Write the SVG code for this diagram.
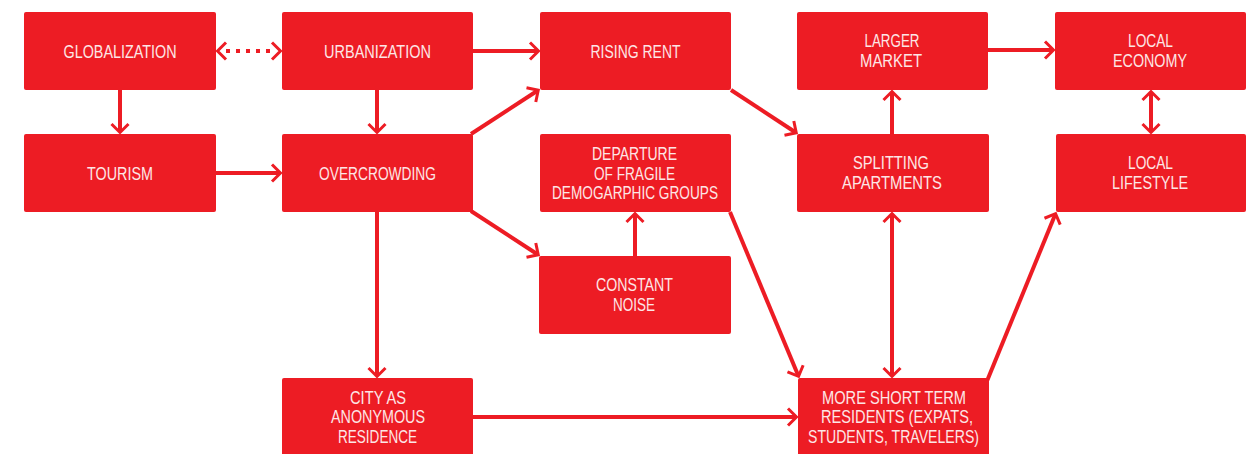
<svg xmlns="http://www.w3.org/2000/svg" width="1246" height="454" viewBox="0 0 1246 454">
  <style>
    .box { fill: #ED1C24; }
    .label { font-family: "Liberation Sans", "DejaVu Sans", sans-serif; font-size: 18px; fill: #FDE6E6; text-anchor: middle; }
    .link { stroke: #ED1C24; stroke-width: 4; fill: none; }
    .dotted { stroke: #ED1C24; stroke-width: 4; fill: none; stroke-dasharray: 4 6; }
    .head { stroke: #ED1C24; stroke-width: 3; fill: none; stroke-dasharray: none; }
  </style>
  <defs>
    <marker id="arrow" viewBox="-12 -12 24 24" refX="0" refY="0" markerWidth="24" markerHeight="24" markerUnits="userSpaceOnUse" orient="auto-start-reverse" overflow="visible">
      <path class="head" d="M -7 -8.5 L 1.5 0 L -7 8.5"/>
    </marker>
  </defs>

  <!-- connectors -->
  <g id="connectors">
    <!-- dotted two-way link with its own chevrons -->
    <line class="dotted" x1="226" y1="51" x2="272" y2="51"/>
    <path class="head" d="M 226 42.5 L 217.5 51 L 226 59.5"/>
    <path class="head" d="M 272 42.5 L 280.5 51 L 272 59.5"/>

    <line class="link" x1="120" y1="90" x2="120" y2="131" marker-end="url(#arrow)"/>
    <line class="link" x1="377" y1="90" x2="377" y2="131" marker-end="url(#arrow)"/>
    <line class="link" x1="216" y1="173" x2="279" y2="173" marker-end="url(#arrow)"/>
    <line class="link" x1="473" y1="51" x2="537" y2="51" marker-end="url(#arrow)"/>
    <line class="link" x1="471" y1="134" x2="537" y2="91" marker-end="url(#arrow)"/>
    <line class="link" x1="731" y1="90" x2="795" y2="132" marker-end="url(#arrow)"/>
    <line class="link" x1="471" y1="211" x2="537" y2="254" marker-end="url(#arrow)"/>
    <line class="link" x1="635" y1="256" x2="635" y2="215" marker-end="url(#arrow)"/>
    <line class="link" x1="377" y1="212" x2="377" y2="375" marker-end="url(#arrow)"/>
    <line class="link" x1="473" y1="417" x2="795" y2="417" marker-end="url(#arrow)"/>
    <line class="link" x1="730" y1="212" x2="798" y2="375" marker-end="url(#arrow)"/>
    <line class="link" x1="892" y1="215" x2="892" y2="375" marker-start="url(#arrow)" marker-end="url(#arrow)"/>
    <line class="link" x1="987" y1="381" x2="1055" y2="215" marker-end="url(#arrow)"/>
    <line class="link" x1="892" y1="134" x2="892" y2="93" marker-end="url(#arrow)"/>
    <line class="link" x1="988" y1="50" x2="1052" y2="50" marker-end="url(#arrow)"/>
    <line class="link" x1="1151" y1="93" x2="1151" y2="131" marker-start="url(#arrow)" marker-end="url(#arrow)"/>
  </g>

  <!-- nodes -->
  <g id="globalization">
    <rect class="box" x="24" y="12" width="192" height="78" rx="2"/>
    <text class="label" x="120" y="58" textLength="113" lengthAdjust="spacingAndGlyphs">GLOBALIZATION</text>
  </g>
  <g id="urbanization">
    <rect class="box" x="282" y="12" width="191" height="78" rx="2"/>
    <text class="label" x="377.5" y="58" textLength="107" lengthAdjust="spacingAndGlyphs">URBANIZATION</text>
  </g>
  <g id="rising-rent">
    <rect class="box" x="540" y="12" width="191" height="78" rx="2"/>
    <text class="label" x="635.5" y="58" textLength="90" lengthAdjust="spacingAndGlyphs">RISING RENT</text>
  </g>
  <g id="larger-market">
    <rect class="box" x="797" y="12" width="191" height="78" rx="2"/>
    <text class="label" x="892" y="47" textLength="55" lengthAdjust="spacingAndGlyphs">LARGER</text>
    <text class="label" x="891" y="67" textLength="62" lengthAdjust="spacingAndGlyphs">MARKET</text>
  </g>
  <g id="local-economy">
    <rect class="box" x="1055" y="12" width="191" height="78" rx="2"/>
    <text class="label" x="1150.5" y="47" textLength="45" lengthAdjust="spacingAndGlyphs">LOCAL</text>
    <text class="label" x="1150" y="67" textLength="74" lengthAdjust="spacingAndGlyphs">ECONOMY</text>
  </g>
  <g id="tourism">
    <rect class="box" x="24" y="134" width="192" height="78" rx="2"/>
    <text class="label" x="120" y="180" textLength="66" lengthAdjust="spacingAndGlyphs">TOURISM</text>
  </g>
  <g id="overcrowding">
    <rect class="box" x="282" y="134" width="191" height="78" rx="2"/>
    <text class="label" x="377.5" y="180" textLength="117" lengthAdjust="spacingAndGlyphs">OVERCROWDING</text>
  </g>
  <g id="departure">
    <rect class="box" x="540" y="134" width="191" height="78" rx="2"/>
    <text class="label" x="634.5" y="160" textLength="85" lengthAdjust="spacingAndGlyphs">DEPARTURE</text>
    <text class="label" x="634.5" y="180" textLength="81" lengthAdjust="spacingAndGlyphs">OF FRAGILE</text>
    <text class="label" x="635" y="199" textLength="166" lengthAdjust="spacingAndGlyphs">DEMOGARPHIC GROUPS</text>
  </g>
  <g id="splitting-apartments">
    <rect class="box" x="797" y="134" width="192" height="78" rx="2"/>
    <text class="label" x="891" y="169" textLength="76" lengthAdjust="spacingAndGlyphs">SPLITTING</text>
    <text class="label" x="892" y="189" textLength="100" lengthAdjust="spacingAndGlyphs">APARTMENTS</text>
  </g>
  <g id="local-lifestyle">
    <rect class="box" x="1056" y="134" width="190" height="78" rx="2"/>
    <text class="label" x="1150.5" y="169" textLength="45" lengthAdjust="spacingAndGlyphs">LOCAL</text>
    <text class="label" x="1150" y="189" textLength="76" lengthAdjust="spacingAndGlyphs">LIFESTYLE</text>
  </g>
  <g id="constant-noise">
    <rect class="box" x="539" y="256" width="192" height="78" rx="2"/>
    <text class="label" x="634.5" y="291" textLength="77" lengthAdjust="spacingAndGlyphs">CONSTANT</text>
    <text class="label" x="634" y="311" textLength="42" lengthAdjust="spacingAndGlyphs">NOISE</text>
  </g>
  <g id="city-as-anonymous-residence">
    <rect class="box" x="282" y="378" width="191" height="80" rx="2"/>
    <text class="label" x="378" y="404" textLength="56" lengthAdjust="spacingAndGlyphs">CITY AS</text>
    <text class="label" x="378" y="423" textLength="94" lengthAdjust="spacingAndGlyphs">ANONYMOUS</text>
    <text class="label" x="377.5" y="443" textLength="79" lengthAdjust="spacingAndGlyphs">RESIDENCE</text>
  </g>
  <g id="short-term-residents">
    <rect class="box" x="798" y="378" width="191" height="80" rx="2"/>
    <text class="label" x="894" y="404" textLength="144" lengthAdjust="spacingAndGlyphs">MORE SHORT TERM</text>
    <text class="label" x="897" y="423" textLength="152" lengthAdjust="spacingAndGlyphs">RESIDENTS (EXPATS,</text>
    <text class="label" x="893.5" y="443" textLength="171" lengthAdjust="spacingAndGlyphs">STUDENTS, TRAVELERS)</text>
  </g>
</svg>
